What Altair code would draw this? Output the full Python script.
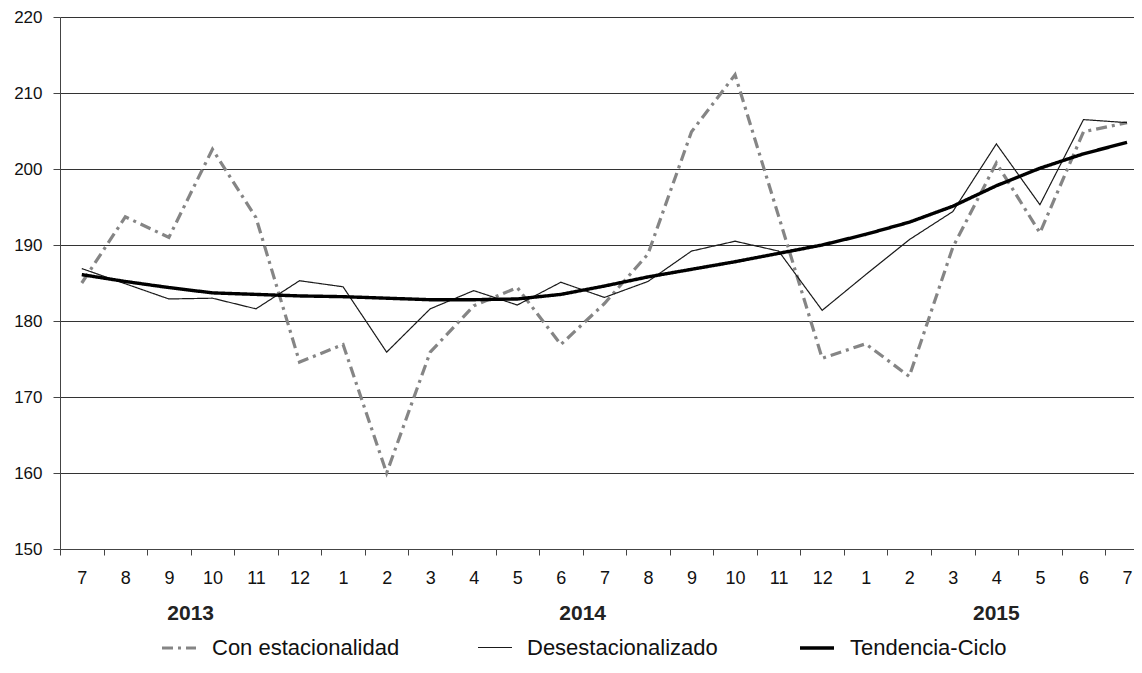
import altair as alt
import pandas as pd

# ---- data ----
meses = ["7", "8", "9", "10", "11", "12",
         "1", "2", "3", "4", "5", "6", "7", "8", "9", "10", "11", "12",
         "1", "2", "3", "4", "5", "6", "7"]
anios = [2013] * 6 + [2014] * 12 + [2015] * 7

con_estacionalidad = [185.0, 193.7, 191.0, 202.6, 193.6, 174.6, 176.9, 160.0, 175.9,
                      182.0, 184.4, 176.9, 182.3, 188.8, 204.9, 212.4, 193.8, 175.1,
                      177.0, 172.7, 189.7, 200.8, 191.6, 204.9, 206.1]
desestacionalizado = [186.9, 184.9, 182.9, 183.0, 181.6, 185.3, 184.5, 175.9, 181.6,
                      184.0, 182.1, 185.1, 183.1, 185.2, 189.2, 190.5, 189.2, 181.4,
                      186.1, 190.7, 194.4, 203.3, 195.3, 206.5, 206.1]
tendencia_ciclo = [186.1, 185.2, 184.4, 183.7, 183.5, 183.3, 183.2, 183.0, 182.8,
                   182.8, 182.9, 183.5, 184.6, 185.8, 186.8, 187.8, 188.9, 190.0,
                   191.4, 193.0, 195.1, 197.8, 200.1, 202.0, 203.5]

series = ["Con estacionalidad", "Desestacionalizado", "Tendencia-Ciclo"]
valores = [con_estacionalidad, desestacionalizado, tendencia_ciclo]
colores = ["#858585", "#1a1a1a", "#000000"]
trazos = [[11, 5, 3, 5], [1, 0], [1, 0]]
grosores = [3.2, 1.2, 3.4]

rows = []
for s, vals in zip(series, valores):
    for i, v in enumerate(vals):
        rows.append({"idx": i, "serie": s, "valor": v})
df = pd.DataFrame(rows)

# year labels placed at the centre of each year's months
yr = pd.DataFrame({"idx": range(len(anios)), "anio": anios})
df_years = yr.groupby("anio", as_index=False)["idx"].mean()
df_years["anio"] = df_years["anio"].astype(str)

# ---- layout ----
W, H = 1074, 532
n = len(meses)
xmax = 24.16
band = W / (xmax + 0.5)

label_expr = "[" + ",".join("'" + m + "'" for m in meses) + "][datum.value]"
FONT = "Liberation Sans, Arial, sans-serif"

x_scale = alt.Scale(domain=[-0.5, xmax], nice=False, zero=False)
x_enc = alt.X(
    "idx:Q",
    scale=x_scale,
    axis=alt.Axis(
        values=list(range(n)), labelExpr=label_expr, title=None, grid=False,
        tickOffset=-band / 2, labelOffset=band / 2, tickSize=6, tickColor="#444",
        domainColor="#444", labelFontSize=18, labelFont=FONT, labelColor="#111",
        labelPadding=14, labelOverlap=False, labelFlush=False,
    ),
)
y_enc = alt.Y(
    "valor:Q",
    scale=alt.Scale(domain=[150, 220], nice=False, zero=False),
    axis=alt.Axis(
        values=list(range(150, 221, 10)), title=None, grid=True, gridColor="#333",
        gridWidth=1, tickSize=7, tickColor="#444", domainColor="#444",
        labelFontSize=17, labelFont=FONT, labelColor="#111", labelPadding=11,
    ),
)

leg = alt.Legend(
    title=None, orient="none", legendX=100, legendY=612, direction="horizontal",
    symbolType="stroke", symbolSize=1156, labelFontSize=22, labelFont=FONT,
    labelColor="#111", columnPadding=75, labelOffset=14, padding=0, labelLimit=400,
)

lines = alt.Chart(df).mark_line().encode(
    x=x_enc,
    y=y_enc,
    color=alt.Color("serie:N", scale=alt.Scale(domain=series, range=colores), legend=leg),
    strokeDash=alt.StrokeDash("serie:N", scale=alt.Scale(domain=series, range=trazos), legend=leg),
    strokeWidth=alt.StrokeWidth("serie:N", scale=alt.Scale(type="ordinal", domain=series, range=grosores), legend=leg),
    detail="serie:N",
    order="idx:Q",
)

years = alt.Chart(df_years).mark_text(
    font=FONT, fontSize=21, fontWeight="bold", baseline="middle", align="center", color="#222"
).encode(
    x=alt.X("idx:Q", scale=x_scale),
    y=alt.value(597),
    text="anio:N",
)

chart = alt.layer(lines, years).properties(
    width=W, height=H,
    autosize=alt.AutoSizeParams(type="none"),
    padding={"left": 52, "top": 9, "right": 0, "bottom": 110},
).configure_view(stroke=None)

chart.save("out.html", embed_options={"renderer": "svg", "actions": False})
